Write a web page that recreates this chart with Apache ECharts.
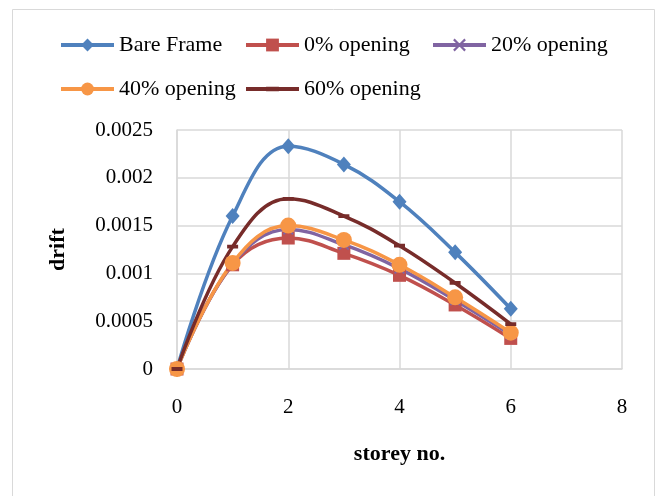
<!DOCTYPE html>
<html>
<head>
<meta charset="utf-8">
<script src="https://cdn.jsdelivr.net/npm/echarts@6/dist/echarts.min.js"></script>
<style>
  html, body { margin: 0; padding: 0; background: #ffffff; }
  #chart { width: 657px; height: 496px; }
</style>
</head>
<body>
<div id="chart"></div>
<script>
// Storey-wise drift for a bare frame and infilled frames with different opening ratios
const storeys = [0, 1, 2, 3, 4, 5, 6];
const bareFrame = [0, 0.00160, 0.00233, 0.00214, 0.00175, 0.00122, 0.00063];
const opening0  = [0, 0.00109, 0.00137, 0.00121, 0.00098, 0.00067, 0.00032];
const opening20 = [0, 0.00110, 0.00146, 0.00130, 0.00105, 0.00072, 0.00036];
const opening40 = [0, 0.00111, 0.00150, 0.00135, 0.00109, 0.00075, 0.00038];
const opening60 = [0, 0.00128, 0.00178, 0.00160, 0.00129, 0.00090, 0.00047];

const seriesNames = ['Bare Frame', '0% opening', '20% opening', '40% opening', '60% opening'];
const xTicks = [0, 2, 4, 6, 8];
const yTicks = [0, 0.0005, 0.001, 0.0015, 0.002, 0.0025];

const FONT = '"Liberation Serif", "Times New Roman", serif';
const GRID_COLOR = '#d9d9d9';

// thin diagonal cross used as the marker for the 20% series
const crossPath = 'path://M0,1.2L1.2,0L5,3.8L8.8,0L10,1.2L6.2,5L10,8.8L8.8,10L5,6.2L1.2,10L0,8.8L3.8,5Z';
// short horizontal dash inside a square box (empty corner points keep the box square)
const dashPath = 'path://M0,0L0,0ZM0,3.6H11V7.4H0ZM11,11L11,11Z';

function pairs(values) {
  return storeys.map((s, i) => [s, values[i]]);
}

function lineSeries(name, values, color, symbol, size) {
  return {
    name: name,
    type: 'line',
    data: pairs(values),
    smooth: 0.4,
    symbol: symbol,
    symbolSize: size,
    showAllSymbol: true,
    lineStyle: { color: color, width: 3.5 },
    itemStyle: { color: color },
    emphasis: { disabled: true },
    animation: false
  };
}

function legendAt(name, left, top) {
  return {
    data: [name],
    left: left,
    top: top,
    padding: 0,
    itemWidth: 53,
    itemHeight: 16,
    itemGap: 0,
    selectedMode: false,
    lineStyle: { width: 4 },
    textStyle: { fontFamily: FONT, fontSize: 22, color: '#000' }
  };
}

const chart = echarts.init(document.getElementById('chart'), null, { renderer: 'canvas' });

chart.setOption({
  backgroundColor: '#ffffff',
  animation: false,
  graphic: [{
    type: 'rect',
    shape: { x: 12.5, y: 9.5, width: 642, height: 500 },
    style: { fill: 'none', stroke: GRID_COLOR, lineWidth: 1 },
    silent: true
  }],
  legend: [
    legendAt(seriesNames[0], 59, 34),
    legendAt(seriesNames[1], 244, 34),
    legendAt(seriesNames[2], 431, 34),
    legendAt(seriesNames[3], 59, 78),
    legendAt(seriesNames[4], 244, 78)
  ],
  grid: { left: 177, right: 35, top: 130, bottom: 127, containLabel: false },
  xAxis: {
    type: 'value',
    min: xTicks[0],
    max: xTicks[xTicks.length - 1],
    interval: xTicks[1] - xTicks[0],
    name: 'storey no.',
    nameLocation: 'middle',
    nameGap: 74,
    nameTextStyle: { fontFamily: FONT, fontSize: 22, fontWeight: 'bold', color: '#000' },
    axisLine: { show: true, lineStyle: { color: GRID_COLOR, width: 1.5 } },
    axisTick: { show: false },
    axisLabel: { fontFamily: FONT, fontSize: 21, color: '#000', margin: 28 },
    splitLine: { show: true, lineStyle: { color: GRID_COLOR, width: 1.5 } }
  },
  yAxis: {
    type: 'value',
    min: yTicks[0],
    max: yTicks[yTicks.length - 1],
    interval: yTicks[1] - yTicks[0],
    name: 'drift',
    nameLocation: 'middle',
    nameGap: 108,
    nameRotate: 90,
    nameTextStyle: { fontFamily: FONT, fontSize: 22, fontWeight: 'bold', color: '#000' },
    axisLine: { show: true, lineStyle: { color: GRID_COLOR, width: 1.5 } },
    axisTick: { show: false },
    axisLabel: {
      fontFamily: FONT, fontSize: 21, color: '#000', margin: 24,
      formatter: v => String(+v.toFixed(4))
    },
    splitLine: { show: true, lineStyle: { color: GRID_COLOR, width: 1.5 } }
  },
  series: [
    lineSeries(seriesNames[0], bareFrame, '#4F81BD', 'diamond', [14, 16]),
    lineSeries(seriesNames[1], opening0, '#C0504D', 'rect', 13),
    lineSeries(seriesNames[2], opening20, '#8064A2', crossPath, 11),
    lineSeries(seriesNames[3], opening40, '#F79646', 'circle', 16),
    lineSeries(seriesNames[4], opening60, '#772C2A', dashPath, 11)
  ]
});
</script>
</body>
</html>
